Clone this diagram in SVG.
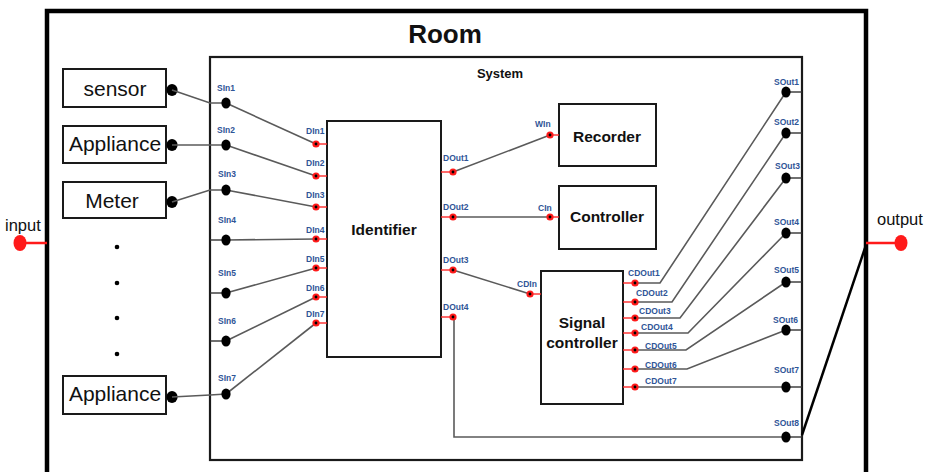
<svg xmlns="http://www.w3.org/2000/svg" width="931" height="472" viewBox="0 0 931 472">
<style>
.box{fill:#fff;stroke:#1a1a1a;stroke-width:2}
.lbl{font-family:"Liberation Sans",Arial,sans-serif;fill:#111}
.big{font-size:21px}
.bold{font-weight:bold;font-size:15.5px;text-anchor:middle}
.port{font-family:"Liberation Sans",Arial,sans-serif;font-size:8.5px;font-weight:bold;fill:#2F5597}
.wire{fill:none;stroke:#5a5a5a;stroke-width:1.6}
.stub{fill:none;stroke:#333;stroke-width:1.4}
.rstub{fill:none;stroke:#ff2a2a;stroke-width:1.4}
.bdot{fill:#000}
.rdot{fill:#ff1a1a}
.rc{fill:#000}
</style>
<defs>
<g id="rp"><circle r="3.6" class="rdot"/><circle r="1.4" class="rc"/></g>
<ellipse id="bp" rx="4.6" ry="5.6" class="bdot"/>
<ellipse id="bp2" rx="5.6" ry="6" class="bdot"/>
</defs>
<rect width="931" height="472" fill="#fff"/>

<g id="room">
<rect x="47" y="11" width="819" height="480" fill="none" stroke="#000" stroke-width="4.5"/>
<text x="445" y="43" class="lbl" font-size="26" font-weight="bold" text-anchor="middle">Room</text>
</g>

<g id="input">
<line x1="20" y1="243" x2="47" y2="243" stroke="#ff1a1a" stroke-width="2.5"/>
<ellipse cx="20" cy="243" rx="6.5" ry="8" fill="#ff1a1a"/>
<text x="5" y="231" class="lbl" font-size="16.5">input</text>
</g>

<g id="output">
<line x1="866" y1="243" x2="900" y2="243" stroke="#ff1a1a" stroke-width="2.5"/>
<ellipse cx="901" cy="243" rx="6.5" ry="8" fill="#ff1a1a"/>
<text x="877" y="225" class="lbl" font-size="16.5">output</text>
</g>

<g id="system">
<rect x="210" y="57" width="592" height="403" fill="none" stroke="#1a1a1a" stroke-width="2.2"/>
<text x="500" y="78" class="lbl" font-size="13" font-weight="bold" text-anchor="middle">System</text>
</g>

<g id="sensor">
<rect x="63" y="69" width="103" height="38" class="box"/>
<text x="115" y="96" class="lbl big" text-anchor="middle">sensor</text>
<use href="#bp2" x="172" y="90"/>
</g>
<g id="appliance1">
<rect x="63" y="126" width="103" height="37" class="box"/>
<text x="115" y="151" class="lbl big" text-anchor="middle">Appliance</text>
<use href="#bp2" x="172" y="145"/>
</g>
<g id="meter">
<rect x="63" y="182" width="103" height="36" class="box"/>
<text x="112" y="208" class="lbl big" text-anchor="middle">Meter</text>
<use href="#bp2" x="172" y="202"/>
</g>
<g id="ellipsis">
<circle cx="117" cy="247" r="2.3" fill="#000"/>
<circle cx="117" cy="283" r="2.3" fill="#000"/>
<circle cx="117" cy="318" r="2.3" fill="#000"/>
<circle cx="117" cy="354" r="2.3" fill="#000"/>
</g>
<g id="appliance2">
<rect x="63" y="376" width="103" height="38" class="box"/>
<text x="115" y="401" class="lbl big" text-anchor="middle">Appliance</text>
<use href="#bp2" x="172" y="397"/>
</g>

<g id="identifier">
<rect x="327" y="121" width="114" height="236" class="box"/>
<text x="384" y="235" class="lbl bold">Identifier</text>
</g>
<g id="recorder">
<rect x="559" y="104" width="97" height="62" class="box"/>
<text x="607" y="142" class="lbl bold">Recorder</text>
</g>
<g id="controller">
<rect x="559" y="186" width="97" height="63" class="box"/>
<text x="607" y="222" class="lbl bold">Controller</text>
</g>
<g id="signal-controller">
<rect x="541" y="271" width="82" height="133" class="box"/>
<text x="582" y="328" class="lbl bold">Signal</text>
<text x="582" y="348" class="lbl bold">controller</text>
</g>

<g id="connectors">
<!-- box to SIn -->
<polyline class="wire" points="172,90 210,103 226,103"/>
<polyline class="wire" points="172,145 226,145"/>
<polyline class="wire" points="172,202 210,190 226,190"/>
<polyline class="wire" points="172,397 210,395 226,394"/>
<line class="stub" x1="210" y1="240" x2="226" y2="240"/>
<line class="stub" x1="210" y1="293" x2="226" y2="293"/>
<line class="stub" x1="210" y1="341" x2="226" y2="341"/>
<!-- SIn to DIn -->
<line class="wire" x1="226" y1="103" x2="316" y2="144"/>
<line class="wire" x1="226" y1="145" x2="316" y2="176"/>
<line class="wire" x1="226" y1="190" x2="316" y2="207"/>
<line class="wire" x1="226" y1="240" x2="316" y2="239"/>
<line class="wire" x1="226" y1="293" x2="316" y2="268"/>
<line class="wire" x1="226" y1="341" x2="316" y2="297"/>
<line class="wire" x1="226" y1="394" x2="316" y2="323"/>
<!-- DOut -->
<line class="wire" x1="453" y1="172" x2="550" y2="135"/>
<line class="wire" x1="453" y1="217" x2="550" y2="217"/>
<line class="wire" x1="453" y1="270" x2="530" y2="294"/>
<polyline class="wire" points="454,317 454,437 787,437"/>
<!-- CDOut to SOut -->
<polyline class="wire" points="635,283 660,283 786,92"/>
<polyline class="wire" points="635,302 672,302 786,133"/>
<polyline class="wire" points="635,318 680,318 786,178"/>
<polyline class="wire" points="635,333 688,333 786,233"/>
<polyline class="wire" points="635,350 686,350 786,282"/>
<polyline class="wire" points="635,369 687,369 786,330"/>
<line class="wire" x1="635" y1="387" x2="786" y2="387"/>
<!-- SOut stubs -->
<line class="stub" x1="786" y1="92" x2="802" y2="92"/>
<line class="stub" x1="786" y1="133" x2="802" y2="133"/>
<line class="stub" x1="786" y1="178" x2="802" y2="178"/>
<line class="stub" x1="786" y1="233" x2="802" y2="233"/>
<line class="stub" x1="786" y1="282" x2="802" y2="282"/>
<line class="stub" x1="786" y1="330" x2="802" y2="330"/>
<line class="stub" x1="786" y1="387" x2="802" y2="387"/>
<line class="stub" x1="786" y1="437" x2="802" y2="437"/>
<line x1="802" y1="435" x2="865" y2="248" stroke="#000" stroke-width="2.5"/>
<!-- red stubs -->
<line class="rstub" x1="316" y1="144" x2="327" y2="144"/>
<line class="rstub" x1="316" y1="176" x2="327" y2="176"/>
<line class="rstub" x1="316" y1="207" x2="327" y2="207"/>
<line class="rstub" x1="316" y1="239" x2="327" y2="239"/>
<line class="rstub" x1="316" y1="268" x2="327" y2="268"/>
<line class="rstub" x1="316" y1="297" x2="327" y2="297"/>
<line class="rstub" x1="316" y1="323" x2="327" y2="323"/>
<line class="rstub" x1="441" y1="172" x2="453" y2="172"/>
<line class="rstub" x1="441" y1="217" x2="453" y2="217"/>
<line class="rstub" x1="441" y1="270" x2="453" y2="270"/>
<line class="rstub" x1="441" y1="317" x2="453" y2="317"/>
<line class="rstub" x1="550" y1="135" x2="559" y2="135"/>
<line class="rstub" x1="550" y1="217" x2="559" y2="217"/>
<line class="rstub" x1="530" y1="294" x2="541" y2="294"/>
<line class="rstub" x1="623" y1="283" x2="635" y2="283"/>
<line class="rstub" x1="623" y1="302" x2="635" y2="302"/>
<line class="rstub" x1="623" y1="318" x2="635" y2="318"/>
<line class="rstub" x1="623" y1="333" x2="635" y2="333"/>
<line class="rstub" x1="623" y1="350" x2="635" y2="350"/>
<line class="rstub" x1="623" y1="369" x2="635" y2="369"/>
<line class="rstub" x1="623" y1="387" x2="635" y2="387"/>
</g>

<g id="ports">
<use href="#bp" x="226" y="103"/><use href="#bp" x="226" y="145"/><use href="#bp" x="226" y="190"/>
<use href="#bp" x="226" y="240"/><use href="#bp" x="226" y="293"/><use href="#bp" x="226" y="341"/>
<use href="#bp" x="226" y="394"/>
<use href="#bp" x="786" y="92"/><use href="#bp" x="786" y="133"/><use href="#bp" x="786" y="178"/>
<use href="#bp" x="786" y="233"/><use href="#bp" x="786" y="282"/><use href="#bp" x="786" y="330"/>
<use href="#bp" x="786" y="387"/><use href="#bp" x="786" y="437"/>
<use href="#rp" x="316" y="144"/><use href="#rp" x="316" y="176"/><use href="#rp" x="316" y="207"/>
<use href="#rp" x="316" y="239"/><use href="#rp" x="316" y="268"/><use href="#rp" x="316" y="297"/>
<use href="#rp" x="316" y="323"/>
<use href="#rp" x="453" y="172"/><use href="#rp" x="453" y="217"/><use href="#rp" x="453" y="270"/>
<use href="#rp" x="453" y="317"/>
<use href="#rp" x="550" y="135"/><use href="#rp" x="550" y="217"/><use href="#rp" x="530" y="294"/>
<use href="#rp" x="635" y="283"/><use href="#rp" x="635" y="302"/><use href="#rp" x="635" y="318"/>
<use href="#rp" x="635" y="333"/><use href="#rp" x="635" y="350"/><use href="#rp" x="635" y="369"/>
<use href="#rp" x="635" y="387"/>

<text class="port" x="217" y="91">SIn1</text>
<text class="port" x="217" y="133">SIn2</text>
<text class="port" x="218" y="177">SIn3</text>
<text class="port" x="218" y="223">SIn4</text>
<text class="port" x="218" y="276">SIn5</text>
<text class="port" x="218" y="324">SIn6</text>
<text class="port" x="218" y="381">SIn7</text>

<text class="port" x="306" y="134">DIn1</text>
<text class="port" x="306" y="166">DIn2</text>
<text class="port" x="306" y="198">DIn3</text>
<text class="port" x="306" y="233">DIn4</text>
<text class="port" x="306" y="262">DIn5</text>
<text class="port" x="306" y="291">DIn6</text>
<text class="port" x="306" y="317">DIn7</text>

<text class="port" x="443" y="161">DOut1</text>
<text class="port" x="443" y="210">DOut2</text>
<text class="port" x="443" y="263">DOut3</text>
<text class="port" x="443" y="310">DOut4</text>

<text class="port" x="535" y="127">WIn</text>
<text class="port" x="538" y="211">CIn</text>
<text class="port" x="517" y="287">CDIn</text>

<text class="port" x="628" y="276">CDOut1</text>
<text class="port" x="636" y="296">CDOut2</text>
<text class="port" x="639" y="314">CDOut3</text>
<text class="port" x="641" y="330">CDOut4</text>
<text class="port" x="645" y="349">CDOut5</text>
<text class="port" x="645" y="368">CDOut6</text>
<text class="port" x="645" y="384">CDOut7</text>

<text class="port" x="774" y="85">SOut1</text>
<text class="port" x="774" y="125">SOut2</text>
<text class="port" x="775" y="169">SOut3</text>
<text class="port" x="774" y="225">SOut4</text>
<text class="port" x="774" y="273">SOut5</text>
<text class="port" x="773" y="323">SOut6</text>
<text class="port" x="774" y="373">SOut7</text>
<text class="port" x="774" y="426">SOut8</text>
</g>
</svg>
